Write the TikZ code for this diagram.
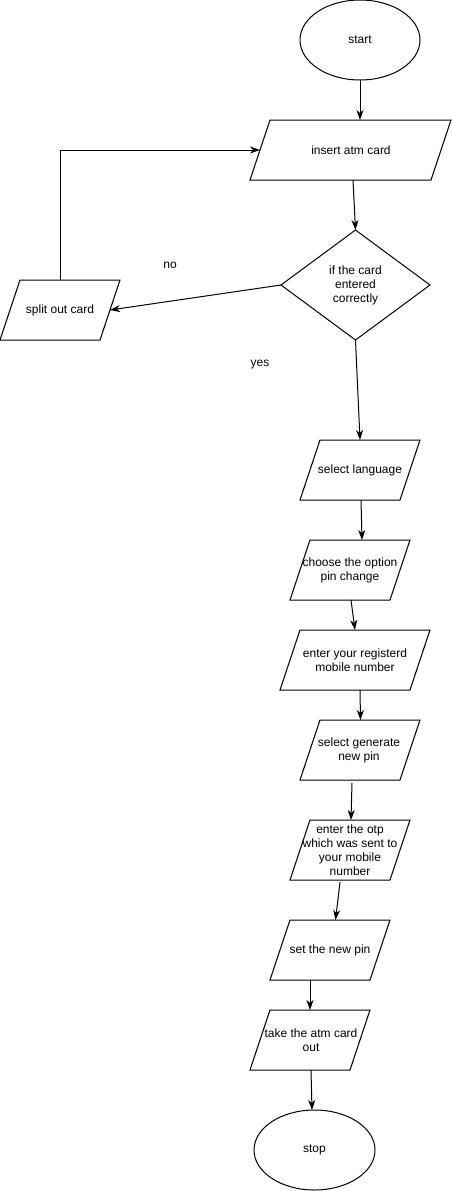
\documentclass[tikz,border=0pt]{standalone}
\usepackage{fontspec}
\setmainfont{Liberation Sans}
\usetikzlibrary{shapes.geometric,arrows.meta,calc}
\tikzset{
  px/.style={x=1pt,y=-1pt},
  iobox/.style={rectangle, minimum height=60pt, inner sep=0pt, outer sep=0pt},
  term/.style={ellipse, draw, line width=1pt, inner sep=0pt, outer sep=0pt},
  decide/.style={diamond, draw, line width=1pt, inner sep=0pt, outer sep=0pt, aspect=1.3545},
  txt/.style={align=center, font=\fontsize{12}{14}\selectfont, inner sep=0pt},
  conn/.style={line width=1pt, -{Stealth[length=10pt,width=7pt,inset=3pt]}},
  outline/.style={draw, line width=1pt, line join=miter}
}
\newcommand{\paral}[1]{\draw[outline] (#1.south west) -- ([xshift=20pt]#1.north west) -- (#1.north east) -- ([xshift=-20pt]#1.south east) -- cycle;}
\begin{document}
\begin{tikzpicture}[px]
\useasboundingbox (0,0) rectangle (451,1191);
% shapes
\node[term, minimum width=120pt, minimum height=80pt] (start) at (360,40) {};
\node[txt] (tstart) at (start.center) {start};
\node[iobox, minimum width=201pt] (ins) at (350.5,150) {};
\paral{ins}
\node[txt] (tins) at (351,150) {insert atm card};
\node[decide, minimum width=149pt, minimum height=110pt] (dec) at (355.5,285) {};
\node[txt] (tdec) at (355.5,285) {if the card\\entered\\correctly};
\node[iobox, minimum width=120pt] (split) at (60,310) {};
\paral{split}
\node[txt] (tsplit) at (60,310) {split out card};
\node[iobox, minimum width=120pt] (lang) at (360,470) {};
\paral{lang}
\node[txt] (tlang) at (360,470) {select language};
\node[iobox, minimum width=120pt] (opt) at (350,570) {};
\paral{opt}
\node[txt] (topt) at (350,570) {choose the option\\pin change};
\node[iobox, minimum width=150pt] (reg) at (355,660) {};
\paral{reg}
\node[txt] (treg) at (355,660) {enter your registerd\\mobile number};
\node[iobox, minimum width=120pt] (gen) at (360,750) {};
\paral{gen}
\node[txt] (tgen) at (359,750) {select generate\\ new pin};
\node[iobox, minimum width=120pt] (otp) at (350,850) {};
\paral{otp}
\node[txt] (totp) at (350,850) {enter the otp\\which was sent to\\your mobile\\number};
\node[iobox, minimum width=120pt] (setp) at (330,950) {};
\paral{setp}
\node[txt] (tsetp) at (330,950) {set the new pin};
\node[iobox, minimum width=120pt] (take) at (310,1040) {};
\paral{take}
\node[txt] (ttake) at (311,1040) {take the atm card\\out};
\node[term, minimum width=121pt, minimum height=80pt] (stop) at (314.5,1150) {};
\node[txt] (tstop) at (stop.center) {stop};
% labels
\node[txt] (no) at (170,265) {no};
\node[txt] (yes) at (260,365) {yes};
% connectors
\draw[conn] (start.south) -- ($(ins.center)+(9.5,-30)$);
\draw[conn] ($(ins.center)+(2.5,30)$) -- (dec.north);
\draw[conn] (dec.west) -- ($(split.center)+(50,0)$);
\draw[conn] ($(split.center)+(0,-30)$) |- ($(ins.center)+(-90.5,0)$);
\draw[conn] (dec.south) -- ($(lang.center)+(0,-30)$);
\draw[conn] ($(lang.center)+(1,30)$) -- ($(opt.center)+(12,-30)$);
\draw[conn] ($(opt.center)+(1,30)$) -- ($(reg.center)+(0,-30)$);
\draw[conn] ($(reg.center)+(5,30)$) -- ($(gen.center)+(0.5,-30)$);
\draw[conn] ($(gen.center)+(-8,33)$) -- ($(otp.center)+(1,-30)$);
\draw[conn] ($(otp.center)+(-10,32)$) -- ($(setp.center)+(5.5,-30)$);
\draw[conn] ($(setp.center)+(-20,30)$) -- ($(take.center)+(0,-30)$);
\draw[conn] ($(take.center)+(1,30)$) -- ($(stop.center)+(-2.5,-40)$);
\end{tikzpicture}
\end{document}
